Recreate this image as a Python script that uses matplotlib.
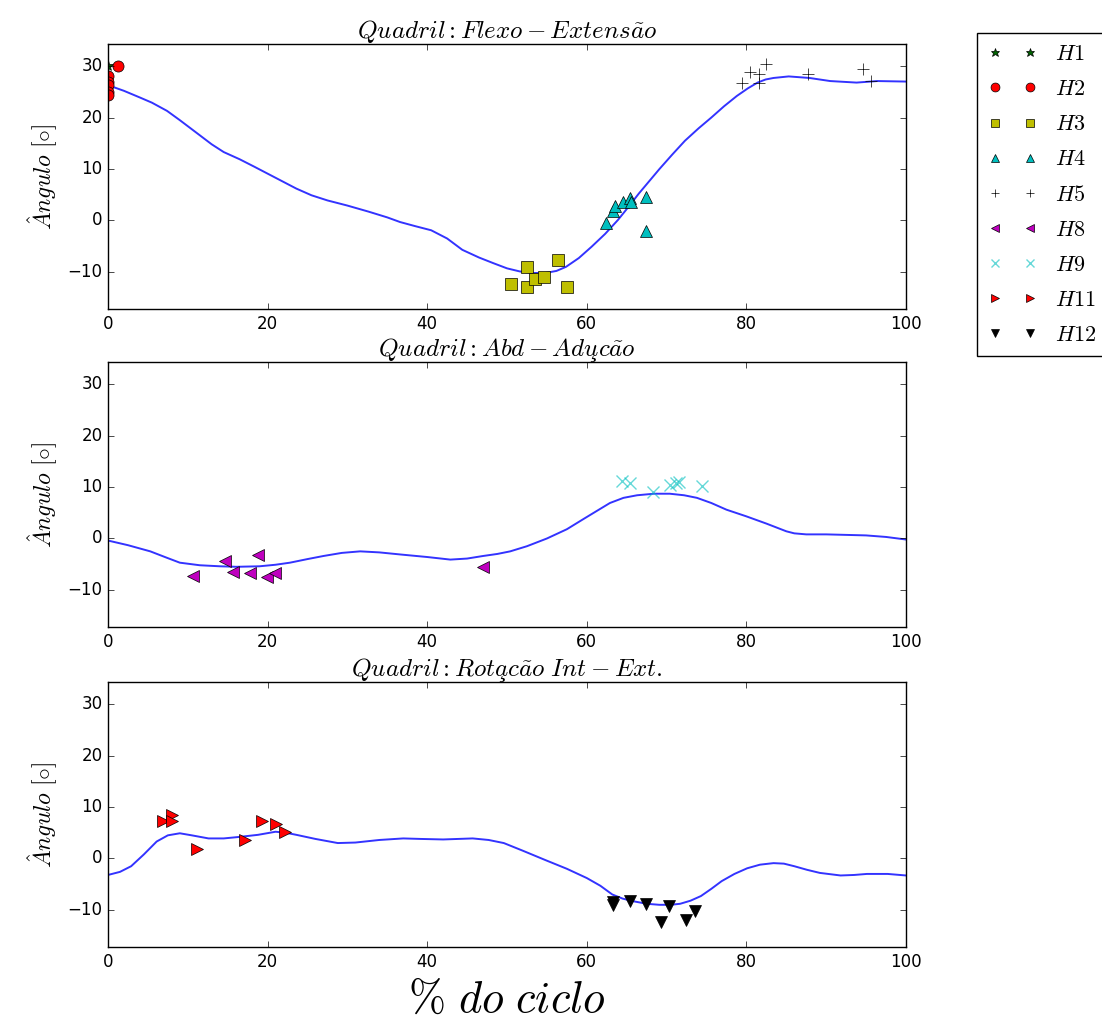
import matplotlib
matplotlib.use("Agg")
import matplotlib.pyplot as plt

plt.style.use('classic')

# ---------------- data ----------------
# Flexo-Extensão mean curve
fe_x = [0, 2, 4, 5.5, 7.4, 9, 11.3, 13, 14.5, 16.5, 18.4, 21, 23.6, 25.5, 27.5,
        30, 32.7, 35, 36.6, 38.5, 40.5, 42.5, 44.4, 46.5, 48.3, 50, 51.6, 53.2,
        54.8, 56.2, 57.4, 59, 60.6, 62.3, 63.9, 65.2, 66.5, 67.8, 69.1, 70.7,
        72.3, 74, 75.6, 77.2, 78.8, 80.2, 81.4, 82.4, 83.4, 85.3, 87.9, 90.5,
        93.8, 96.4, 100]
fe_y = [26.3, 25.2, 23.9, 22.9, 21.3, 19.5, 16.8, 14.8, 13.3, 11.9, 10.4, 8.3, 6.2,
        4.9, 3.9, 2.9, 1.7, 0.6, -0.3, -1.1, -1.9, -3.5, -5.7, -7.2, -8.3, -9.3,
        -9.9, -10.2, -10.2, -9.8, -9.0, -7.3, -5.1, -2.6, 0.1, 2.6, 5.2, 7.6, 10.0,
        12.8, 15.5, 17.9, 20.0, 22.2, 24.2, 25.7, 26.8, 27.4, 27.7, 28.0, 27.7,
        27.1, 26.8, 27.1, 27.0]

# Abd-Adução mean curve
aa_x = [0, 2.5, 5.3, 7.3, 9, 11.5, 14, 16.1, 19, 21, 22.8, 25, 27, 29.3, 31.6,
        34, 36.6, 40, 42.9, 45, 47, 48.8, 50.4, 52.5, 55, 57.5, 59.6, 61.3, 62.9,
        64.6, 66.3, 68.4, 70.4, 72.2, 73.8, 75.6, 77.5, 80, 82.5, 85, 86, 87.5,
        90, 95, 97.5, 100]
aa_y = [-0.4, -1.3, -2.5, -3.7, -4.7, -5.2, -5.4, -5.5, -5.4, -5.1, -4.7, -4.0,
        -3.4, -2.8, -2.5, -2.7, -3.1, -3.6, -4.1, -3.9, -3.4, -3.0, -2.5, -1.5,
        0.0, 1.8, 3.8, 5.4, 6.9, 7.9, 8.4, 8.7, 8.7, 8.4, 7.9, 6.9, 5.6, 4.3, 2.9,
        1.4, 1.0, 0.8, 0.8, 0.6, 0.3, -0.2]

# Rotação Int-Ext mean curve
ie_x = [0, 1.5, 2.9, 4.5, 6.1, 7.5, 9, 10.5, 12.6, 14.5, 16.5, 18.8, 21, 22.3,
        23.6, 26, 28.8, 31, 34, 37, 39.2, 42, 45.7, 47.7, 49.6, 52, 54.8, 57.5,
        60, 61.7, 63.2, 64.5, 65.8, 67.5, 69.1, 70.5, 71.7, 73, 74.3, 75.6, 76.9,
        78.5, 80.1, 81.7, 83.4, 84.7, 86, 87.6, 89.2, 91.8, 93.5, 95.1, 97.7, 100]
ie_y = [-3.2, -2.6, -1.5, 0.8, 3.3, 4.5, 4.9, 4.5, 3.9, 3.9, 4.2, 4.6, 5.2, 5.0,
        4.6, 3.8, 3.0, 3.1, 3.6, 3.9, 3.8, 3.7, 3.9, 3.6, 3.0, 1.5, -0.3, -2.0,
        -3.8, -5.3, -7.0, -7.8, -8.3, -8.8, -9.0, -9.0, -8.8, -8.2, -7.3, -5.9,
        -4.4, -3.0, -1.9, -1.2, -0.9, -1.0, -1.5, -2.2, -2.8, -3.3, -3.2, -3.0,
        -3.0, -3.3]

# events, top panel
h1_x = [0.0]
h1_y = [30.0]
h2_x = [1.2, 0, 0, 0, 0, 0]
h2_y = [30.0, 28.0, 27.0, 26.3, 25.0, 24.4]
h3_x = [50.5, 52.5, 52.5, 53.5, 54.6, 56.4, 57.5]
h3_y = [-12.3, -9.0, -13.0, -11.4, -11.0, -7.7, -13.0]
h4_x = [62.4, 63.3, 63.5, 64.5, 65.4, 65.5, 67.4, 67.4]
h4_y = [-0.4, 1.8, 2.8, 3.5, 4.4, 3.5, 4.6, -2.0]
h5_x = [79.5, 80.5, 81.6, 81.6, 82.5, 87.7, 94.6, 95.6]
h5_y = [26.8, 28.9, 28.4, 26.8, 30.4, 28.4, 29.4, 27.1]
# middle panel
h8_x = [10.7, 14.7, 15.7, 17.8, 18.8, 19.9, 20.9, 47.0]
h8_y = [-7.2, -4.3, -6.5, -6.7, -3.3, -7.4, -6.7, -5.6]
h9_x = [64.4, 65.4, 68.3, 70.4, 71.2, 71.5, 74.4]
h9_y = [11.2, 10.7, 9.1, 10.4, 10.8, 11.0, 10.2]
# bottom panel
h11_x = [6.9, 8.0, 8.0, 11.1, 17.2, 19.3, 21.1, 22.2]
h11_y = [7.3, 8.5, 7.2, 1.9, 3.5, 7.2, 6.7, 5.1]
h12_x = [63.3, 63.3, 65.4, 67.4, 70.3, 69.3, 72.4, 73.6]
h12_y = [-8.5, -9.1, -8.3, -8.8, -9.3, -12.3, -11.9, -10.3]

titles = [r'$Quadril: Flexo-Extens\tilde{a}o$',
          r'$Quadril: Abd-Adu\c{c}\tilde{a}o$',
          r'$Quadril: Rota\c{c}\tilde{a}o\ Int-Ext.$']

# ---------------- figure ----------------
fig = plt.figure(figsize=(11.02, 10.27), dpi=100, facecolor='white')
W, H = 1102.0, 1027.0
def rect(top, bottom):
    return [108 / W, 1 - bottom / H, (906 - 108) / W, (bottom - top) / H]

ax1 = fig.add_axes(rect(44, 309))
ax2 = fig.add_axes(rect(362, 627))
ax3 = fig.add_axes(rect(682, 947))

ms = 8
ax1.plot(fe_x, fe_y, color='b', lw=1.4, alpha=0.8)
ax1.plot(h1_x, h1_y, '*', color='darkgreen', ms=ms, label=r'$H1$')
ax1.plot(h2_x, h2_y, 'o', color='r', ms=ms, label=r'$H2$')
ax1.plot(h3_x, h3_y, 's', color='y', ms=ms, label=r'$H3$')
ax1.plot(h4_x, h4_y, '^', color='c', ms=ms, label=r'$H4$')
ax1.plot(h5_x, h5_y, '+', color='k', ms=ms, label=r'$H5$')

ax2.plot(aa_x, aa_y, color='b', lw=1.4, alpha=0.8)
ax2.plot(h8_x, h8_y, '<', color='m', ms=ms, label=r'$H8$')
ax2.plot(h9_x, h9_y, 'x', color='c', ms=ms, mew=1.0, alpha=0.6, label=r'$H9$')

ax3.plot(ie_x, ie_y, color='b', lw=1.4, alpha=0.8)
ax3.plot(h11_x, h11_y, '>', color='r', ms=ms, label=r'$H11$')
ax3.plot(h12_x, h12_y, 'v', color='k', ms=ms, label=r'$H12$')

for ax, t in zip([ax1, ax2, ax3], titles):
    ax.set_xlim(0, 100)
    ax.set_ylim(-17.2, 34.3)
    ax.set_yticks([-10, 0, 10, 20, 30])
    ax.set_xticks([0, 20, 40, 60, 80, 100])
    ax.set_title(t, fontsize=18, y=1.0, pad=4)
    ax.set_ylabel(r'$\hat{A}ngulo\ [\circ]$', fontsize=17)
    ax.tick_params(labelsize=12)

ax3.set_xlabel(r'$\%\ do\ ciclo$', fontsize=32)

handles, labels = [], []
for ax in [ax1, ax2, ax3]:
    h, l = ax.get_legend_handles_labels()
    handles += h
    labels += l
fig.legend(handles, labels, loc='upper left', bbox_to_anchor=(977 / W, 1 - 33 / H),
           numpoints=2, markerscale=0.8, fontsize=16, labelspacing=0.68,
           borderpad=0.5, handlelength=2.2, handletextpad=0.8, borderaxespad=0.0)

fig.savefig('out.png', dpi=100, facecolor='white')
